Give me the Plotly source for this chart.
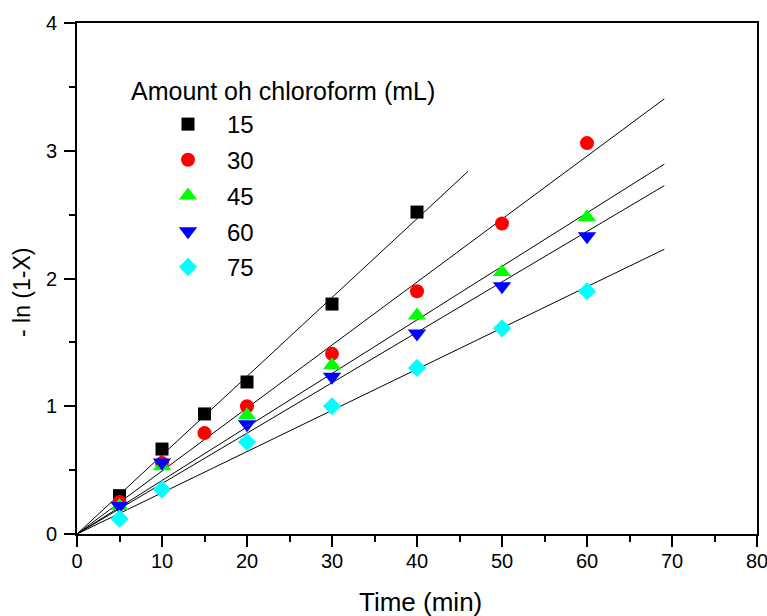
import plotly.graph_objects as go

# ---- data ----
series_names = ["15", "30", "45", "60", "75"]
colors = ["#000000", "#ff0000", "#00ff00", "#0000ff", "#00ffff"]
symbols = ["square", "circle", "triangle-up", "triangle-down", "diamond"]

t_15 = [5, 10, 15, 20, 30, 40]
y_15 = [0.30, 0.665, 0.94, 1.19, 1.80, 2.52]
t_30 = [5, 10, 15, 20, 30, 40, 50, 60]
y_30 = [0.25, 0.555, 0.79, 1.00, 1.41, 1.90, 2.43, 3.06]
t_45 = [5, 10, 20, 30, 40, 50, 60]
y_45 = [0.22, 0.53, 0.93, 1.32, 1.71, 2.05, 2.48]
t_60 = [5, 10, 20, 30, 40, 50, 60]
y_60 = [0.22, 0.56, 0.86, 1.23, 1.57, 1.94, 2.33]
t_75 = [5, 10, 20, 30, 40, 50, 60]
y_75 = [0.12, 0.35, 0.72, 1.00, 1.30, 1.61, 1.90]

# linear fits through origin: slope and end time of each drawn line
fit_slopes = [0.0617, 0.0493, 0.0419, 0.03947, 0.03226]
fit_end_t = [46.0, 69.1, 69.1, 69.1, 69.1]

x_ticks = [0, 10, 20, 30, 40, 50, 60, 70, 80]
y_ticks = [0, 1, 2, 3, 4]

times = [t_15, t_30, t_45, t_60, t_75]
values = [y_15, y_30, y_45, y_60, y_75]
marker_sizes = [13, 14, 16, 16, 14]

FONT = "Liberation Sans, Arial, sans-serif"

W, H = 767, 616
L, R, T, B = 77, 10, 23, 82
PW = W - L - R          # plot width in px
PH = H - T - B          # plot height in px


def px_x(p):
    return (p - L) / PW


def px_y(p):
    return (H - B - p) / PH


fig = go.Figure()

# fit lines
for slope, tend in zip(fit_slopes, fit_end_t):
    fig.add_trace(go.Scatter(
        x=[0, tend], y=[0, slope * tend], mode="lines",
        line=dict(color="black", width=1), showlegend=False, hoverinfo="skip"))

# data points
for name, t, v, c, s, ms in zip(series_names, times, values, colors, symbols, marker_sizes):
    fig.add_trace(go.Scatter(
        x=t, y=v, mode="markers", name=name, legendgroup=name,
        marker=dict(symbol=s, color=c, size=ms, line=dict(width=0))))

axis_common = dict(
    showline=True, linecolor="black", linewidth=2, mirror=True,
    ticks="outside", ticklen=11, tickwidth=2, tickcolor="black",
    showgrid=False, zeroline=False, automargin=False,
    ticklabeloverflow="allow",
    tickfont=dict(family=FONT, size=20, color="black"),
)

fig.update_xaxes(
    range=[0, 80], tickvals=x_ticks, ticklabelstandoff=-3,
    minor=dict(ticks="outside", ticklen=6, tickwidth=2, tickcolor="black", dtick=5, showgrid=False),
    **axis_common)
fig.update_yaxes(
    range=[0, 4], tickvals=y_ticks, ticklabelstandoff=3,
    minor=dict(ticks="outside", ticklen=6, tickwidth=2, tickcolor="black", dtick=0.5, showgrid=False),
    **axis_common)

# axis titles
fig.add_annotation(
    text="Time (min)", xref="paper", yref="paper", x=px_x(420), y=px_y(602),
    xanchor="center", yanchor="middle", showarrow=False,
    font=dict(family=FONT, size=26, color="black"))
fig.add_annotation(
    text="- ln (1-X)", xref="paper", yref="paper", x=px_x(22), y=px_y(293),
    xanchor="center", yanchor="middle", showarrow=False, textangle=-90,
    font=dict(family=FONT, size=23, color="black"))

# legend title placed as an annotation (offset left of the legend items, as in the reference)
fig.add_annotation(
    text="Amount oh chloroform (mL)", xref="paper", yref="paper",
    x=px_x(129), y=px_y(91), xanchor="left", yanchor="middle",
    showarrow=False, font=dict(family=FONT, size=25, color="black"))

fig.update_layout(
    width=W, height=H,
    margin=dict(l=L, r=R, t=T, b=B, pad=0),
    paper_bgcolor="white", plot_bgcolor="white",
    font=dict(family=FONT, color="black"),
    legend=dict(
        x=px_x(149), y=px_y(102), xanchor="left", yanchor="top",
        bgcolor="rgba(0,0,0,0)", borderwidth=0,
        font=dict(family=FONT, size=24, color="black"),
        itemwidth=68, tracegroupgap=1.5),
)

fig.write_html(
    "out.html",
    config={"displayModeBar": False},
    post_script="document.body.style.margin='0';document.body.style.overflow='hidden';")
